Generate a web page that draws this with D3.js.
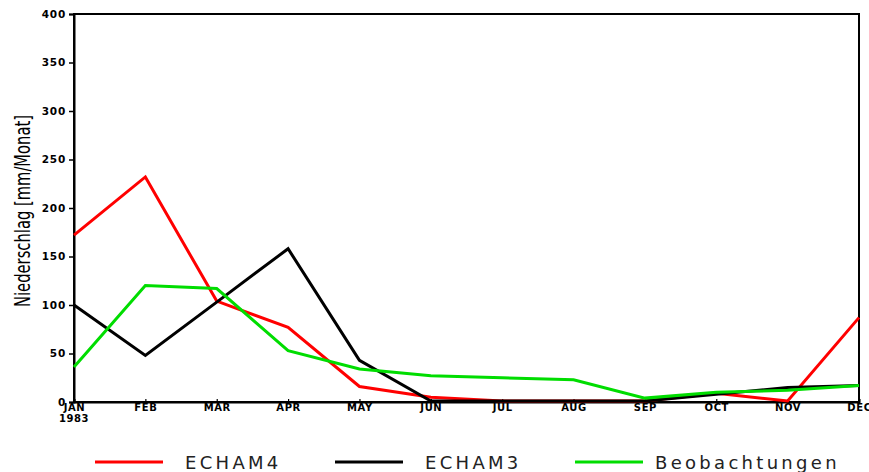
<!DOCTYPE html>
<html><head><meta charset="utf-8">
<script src="https://cdn.jsdelivr.net/npm/d3@7/dist/d3.min.js"></script>
<style>body{margin:0;background:#fff}svg{display:block}</style>
</head><body>
<svg id="c" width="869" height="472"></svg>
<script>
const months = ["JAN","FEB","MAR","APR","MAY","JUN","JUL","AUG","SEP","OCT","NOV","DEC"];
const echam4 = [172,232,104,77,16,5,1,1,1,9,1,87];
const echam3 = [100,48,103,158,43,1,1,1,1,8,15,17];
const beob   = [36,120,117,53,34,27,25,23,4,10,12,17];
const yTicks = [0,50,100,150,200,250,300,350,400];
const seriesNames = ["ECHAM4","ECHAM3","Beobachtungen"];
const seriesColors = ["#ff0000","#000000","#00dd00"];

const svg = d3.select("#c");
const L=74,R=859,T=14,B=402;
const x = d3.scalePoint().domain(months).range([L,R]);
const y = d3.scaleLinear().domain([0,400]).range([B,T]);

svg.append("rect").attr("x",L).attr("y",T).attr("width",R-L).attr("height",B-T)
  .attr("fill","none").attr("stroke","#000").attr("stroke-width",2);

const yAx = svg.append("g").attr("transform",`translate(${L},0)`)
  .call(d3.axisLeft(y).tickValues(yTicks).tickSize(5).tickPadding(3));
yAx.select(".domain").attr("stroke-width",2);
yAx.selectAll("text").attr("font-family","DejaVu Sans").attr("font-weight","bold").attr("font-size",10.5).attr("letter-spacing",0.8);
yAx.selectAll("line").attr("stroke-width",1.5);

const xAx = svg.append("g").attr("transform",`translate(0,${B})`)
  .call(d3.axisBottom(x).tickSize(-3).tickPadding(3));
xAx.select(".domain").attr("stroke-width",2);
xAx.selectAll("text").attr("font-family","DejaVu Sans").attr("font-weight","bold").attr("font-size",10).attr("letter-spacing",0.6).attr("dy","0.6em");
xAx.selectAll("line").attr("stroke-width",1.2);
svg.append("text").attr("x",L).attr("y",B+20).attr("text-anchor","middle")
  .attr("font-family","DejaVu Sans").attr("font-weight","bold").attr("font-size",10).attr("letter-spacing",0.6).text("1983");

svg.append("text").attr("transform",`translate(30,211) rotate(-90)`)
  .attr("text-anchor","middle").attr("font-family","DejaVu Sans")
  .attr("font-size",21).attr("textLength",192).attr("lengthAdjust","spacingAndGlyphs")
  .text("Niederschlag [mm/Monat]");

const line = d3.line().x((d,i)=>x(months[i])).y(d=>y(d));
[echam4,echam3,beob].forEach((s,k)=>{
  svg.append("path").datum(s).attr("d",line).attr("fill","none")
    .attr("stroke",seriesColors[k]).attr("stroke-width",3).attr("stroke-linejoin","miter");
});

const legX=[95,335,575], legT=[185,425,655];
seriesNames.forEach((n,k)=>{
  svg.append("line").attr("x1",legX[k]).attr("x2",legX[k]+68).attr("y1",462).attr("y2",462)
    .attr("stroke",seriesColors[k]).attr("stroke-width",3);
  svg.append("text").attr("x",legT[k]).attr("y",469).attr("font-family","DejaVu Sans")
    .attr("font-size",18).attr("letter-spacing",3.3).attr("fill","#222").text(n);
});
</script>
</body></html>
